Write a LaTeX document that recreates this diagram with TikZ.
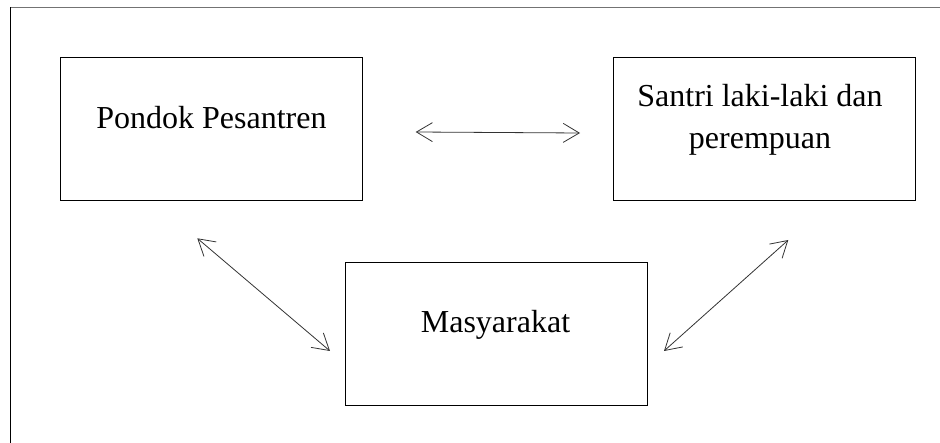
\documentclass[tikz,border=0pt]{standalone}
\usepackage{fontspec}
\setmainfont{Liberation Serif}
\usetikzlibrary{arrows.meta}
\begin{document}
\begin{tikzpicture}[x=1pt,y=-1pt,
  box/.style={draw=black,line width=1.1pt,minimum width=302pt,minimum height=143pt,inner sep=0pt,anchor=north west},
  lbl/.style={font=\fontsize{32}{42}\selectfont,align=center,anchor=base},
  link/.style={draw=black!80,line width=0.8pt,{Straight Barb[length=16pt,width=19pt]}-{Straight Barb[length=16pt,width=19pt]}}]
\useasboundingbox (0,0) rectangle (940,443);
\draw[black!55,line width=1.6pt] (940,7.5) -- (10.5,7.5);
\draw[black,line width=1.2pt] (10.5,7.5) -- (10.5,443);
\node[box] (pp) at (60,57) {};
\node[box] (st) at (613,57) {};
\node[box] (ms) at (345,262) {};
\node[lbl] (ppt) at (211.5,129) {Pondok Pesantren};
\node[lbl] (stt) at (760,107) {Santri laki-laki dan};
\node[lbl] (stt2) at (760,149) {perempuan};
\node[lbl] (mst) at (495.5,333) {Masyarakat};
\coordinate (a1) at (415.7,132);
\coordinate (a2) at (580,133);
\coordinate (b1) at (197.3,238.3);
\coordinate (b2) at (330,351);
\coordinate (c1) at (788.3,240);
\coordinate (c2) at (664,351);
\draw[link] (a1) -- (a2);
\draw[link] (b1) -- (b2);
\draw[link] (c1) -- (c2);
\end{tikzpicture}
\end{document}
